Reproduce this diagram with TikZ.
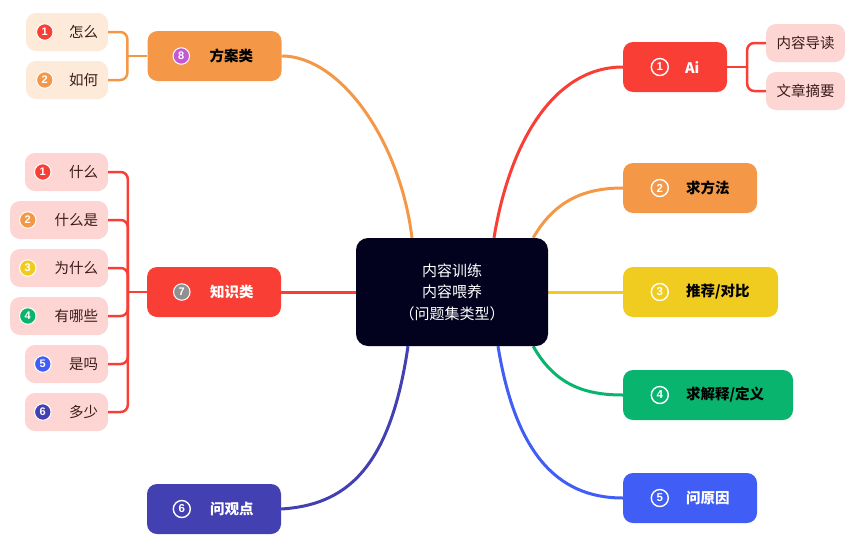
\documentclass[tikz,border=0pt]{standalone}
\usepackage{fontspec}
\usetikzlibrary{backgrounds}
\setmainfont{Noto Sans CJK SC}
\newfontfamily\digfont{Liberation Sans}
\definecolor{cred}{HTML}{F93E35}
\definecolor{corange}{HTML}{F49848}
\definecolor{cyellow}{HTML}{F0CC20}
\definecolor{cgreen}{HTML}{08B46E}
\definecolor{cblue}{HTML}{405DF5}
\definecolor{cindigo}{HTML}{4340B2}
\definecolor{cnavy}{HTML}{02021E}
\definecolor{cpink}{HTML}{FDD6D3}
\definecolor{cpeach}{HTML}{FDEAD8}
\definecolor{cpurple}{HTML}{C458D5}
\definecolor{cgray}{HTML}{909090}
\definecolor{ctext}{HTML}{3A1A1A}
\tikzset{
  mainbox/.style={rectangle, rounded corners=10pt, minimum height=50pt, inner sep=0pt},
  childbox/.style={rectangle, rounded corners=10pt, minimum height=38pt, inner sep=0pt},
  mtext/.style={anchor=west, inner sep=0pt, font=\fontsize{14.5}{16}\selectfont\bfseries},
  ctxt/.style={anchor=east, inner sep=0pt, text=ctext, font=\fontsize{14.5}{16}\selectfont},
  numo/.style={circle, draw=white, line width=1.4pt, minimum size=17pt, inner sep=0pt, text=white, font=\digfont\fontsize{11.5}{11.5}\selectfont\bfseries},
  numf/.style={circle, draw=white, line width=1pt, minimum size=16.5pt, inner sep=0pt, text=white, font=\digfont\fontsize{11}{11}\selectfont\bfseries},
  conn/.style={line width=3pt},
  brk/.style={line width=2.5pt},
}
\begin{document}
\begin{tikzpicture}[x=1pt, y=-1pt]
\useasboundingbox (0,0) rectangle (851,544);

\node[rectangle, rounded corners=12pt, fill=cnavy, minimum width=192pt, minimum height=108pt, inner sep=0pt, text=white, align=center, font=\fontsize{15}{21.5}\selectfont] (c) at (452,292) {内容训练\\内容喂养\\（问题集类型）};

\node[mainbox, fill=cred, minimum width=104pt] (n1) at (675,67) {};
\node[mainbox, fill=corange, minimum width=134pt] (n2) at (690,188) {};
\node[mainbox, fill=cyellow, minimum width=155pt] (n3) at (700.5,292) {};
\node[mainbox, fill=cgreen, minimum width=170pt] (n4) at (708,395) {};
\node[mainbox, fill=cblue, minimum width=134pt] (n5) at (690,498) {};
\node[mainbox, fill=cindigo, minimum width=134pt] (n6) at (214,509) {};
\node[mainbox, fill=cred, minimum width=134pt] (n7) at (214,292) {};
\node[mainbox, fill=corange, minimum width=134pt] (n8) at (214.5,56) {};

\begin{scope}[on background layer]
\draw[conn, cred] ([xshift=42pt]c.north) .. controls (510,140) and (555,67) .. (n1.west);
\draw[conn, corange] ([xshift=-15pt]c.north east) .. controls (555,200) and (585,188) .. (n2.west);
\draw[conn, cyellow] (c.east) -- (n3.west);
\draw[conn, cgreen] ([xshift=-15pt]c.south east) .. controls (555,385) and (585,395) .. (n4.west);
\draw[conn, cblue] ([xshift=46pt]c.south) .. controls (515,450) and (555,498) .. (n5.west);
\draw[conn, cindigo] ([xshift=-44pt]c.south) .. controls (390,470) and (345,505) .. (n6.east);
\draw[conn, cred] (c.west) -- (n7.east);
\draw[conn, corange] ([xshift=-40pt]c.north) .. controls (400,140) and (340,56) .. (n8.east);
\end{scope}

% labels in main nodes
\node[numo] (d1) at ([xshift=37pt]n1.west) {1};
\node[mtext, text=white] (t1) at ([xshift=62pt]n1.west) {Ai};
\node[numo] (d2) at ([xshift=37pt]n2.west) {2};
\node[mtext, text=black] (t2) at ([xshift=63pt]n2.west) {求方法};
\node[numo] (d3) at ([xshift=37pt]n3.west) {3};
\node[mtext, text=black] (t3) at ([xshift=63pt]n3.west) {推荐/对比};
\node[numo] (d4) at ([xshift=37pt]n4.west) {4};
\node[mtext, text=black] (t4) at ([xshift=63pt]n4.west) {求解释/定义};
\node[numo] (d5) at ([xshift=37pt]n5.west) {5};
\node[mtext, text=white] (t5) at ([xshift=63pt]n5.west) {问原因};
\node[numo] (d6) at ([xshift=35pt]n6.west) {6};
\node[mtext, text=white] (t6) at ([xshift=63pt]n6.west) {问观点};
\node[numf, fill=cgray] (d7) at ([xshift=35pt]n7.west) {7};
\node[mtext, text=white] (t7) at ([xshift=63pt]n7.west) {知识类};
\node[numf, fill=cpurple] (d8) at ([xshift=34pt]n8.west) {8};
\node[mtext, text=black] (t8) at ([xshift=62pt]n8.west) {方案类};

% Ai children
\node[childbox, fill=cpink, minimum width=79pt, text=ctext, font=\fontsize{14.5}{16}\selectfont] (a1) at (805.5,43) {内容导读};
\node[childbox, fill=cpink, minimum width=79pt, text=ctext, font=\fontsize{14.5}{16}\selectfont] (a2) at (805.5,91) {文章摘要};
\coordinate (ka) at ([xshift=20pt]n1.east);
\draw[brk, cred] (n1.east) -- (ka);
\draw[brk, cred, rounded corners=7pt] (ka) |- (a1.west);
\draw[brk, cred, rounded corners=7pt] (ka) |- (a2.west);

% 方案类 children
\node[childbox, fill=cpeach, minimum width=82pt] (p1) at (67,32) {};
\node[childbox, fill=cpeach, minimum width=82pt] (p2) at (67,80) {};
\node[numf, fill=cred] (p1d) at ([xshift=19pt]p1.west) {1};
\node[ctxt] (p1t) at ([xshift=-10pt]p1.east) {怎么};
\node[numf, fill=corange] (p2d) at ([xshift=19pt]p2.west) {2};
\node[ctxt] (p2t) at ([xshift=-10pt]p2.east) {如何};
\coordinate (k8) at ([xshift=-20pt]n8.west);
\draw[brk, corange] (n8.west) -- (k8);
\draw[brk, corange, rounded corners=7pt] (k8) |- (p1.east);
\draw[brk, corange, rounded corners=7pt] (k8) |- (p2.east);

% 知识类 children
\node[childbox, fill=cpink, minimum width=83pt] (q1) at (66.5,172) {};
\node[childbox, fill=cpink, minimum width=98pt] (q2) at (59,220) {};
\node[childbox, fill=cpink, minimum width=98pt] (q3) at (59,268) {};
\node[childbox, fill=cpink, minimum width=98pt] (q4) at (59,316) {};
\node[childbox, fill=cpink, minimum width=83pt] (q5) at (66.5,364) {};
\node[childbox, fill=cpink, minimum width=83pt] (q6) at (66.5,412) {};
\node[numf, fill=cred] (q1d) at ([xshift=18pt]q1.west) {1};
\node[ctxt] (q1t) at ([xshift=-10pt]q1.east) {什么};
\node[numf, fill=corange] (q2d) at ([xshift=18pt]q2.west) {2};
\node[ctxt] (q2t) at ([xshift=-10pt]q2.east) {什么是};
\node[numf, fill=cyellow] (q3d) at ([xshift=18pt]q3.west) {3};
\node[ctxt] (q3t) at ([xshift=-10pt]q3.east) {为什么};
\node[numf, fill=cgreen] (q4d) at ([xshift=18pt]q4.west) {4};
\node[ctxt] (q4t) at ([xshift=-10pt]q4.east) {有哪些};
\node[numf, fill=cblue] (q5d) at ([xshift=18pt]q5.west) {5};
\node[ctxt] (q5t) at ([xshift=-10pt]q5.east) {是吗};
\node[numf, fill=cindigo] (q6d) at ([xshift=18pt]q6.west) {6};
\node[ctxt] (q6t) at ([xshift=-10pt]q6.east) {多少};
\coordinate (k7) at ([xshift=-19pt]n7.west);
\draw[brk, cred] (n7.west) -- (k7);
\foreach \q in {q1,q2,q3,q4,q5,q6}{
  \draw[brk, cred, rounded corners=7pt] (k7) |- (\q.east);
}
\end{tikzpicture}
\end{document}
